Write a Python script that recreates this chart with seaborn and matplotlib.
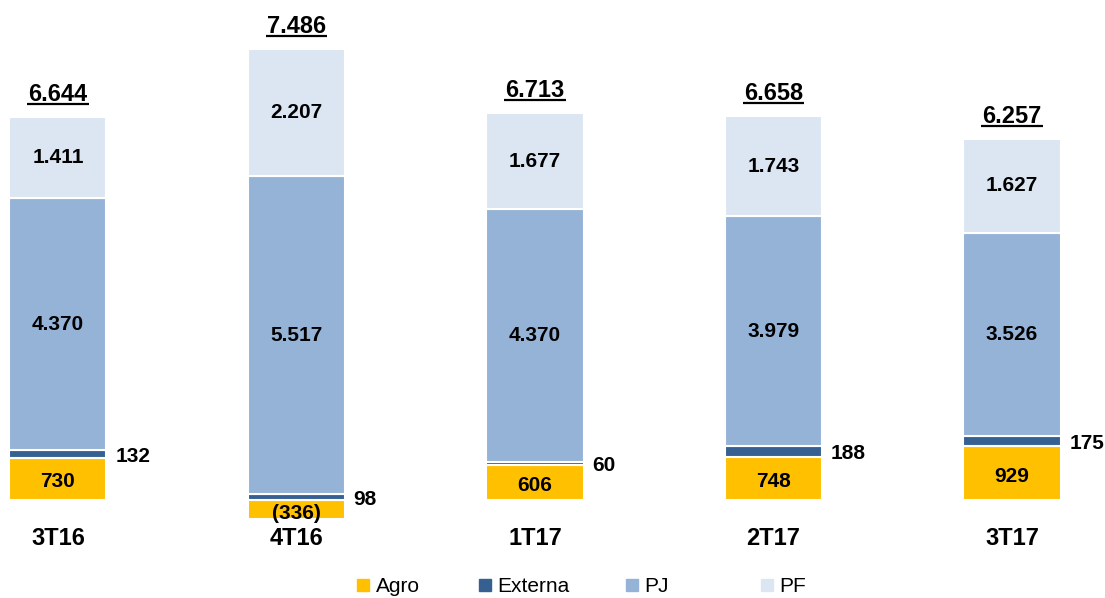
import numpy as np
import matplotlib as mpl
import matplotlib.pyplot as plt
import seaborn as sns
from matplotlib.lines import Line2D

sns.set_theme(style="white")
mpl.rcParams["font.family"] = ["Liberation Sans", "DejaVu Sans"]
mpl.rcParams["text.color"] = "black"

# --------------------------------------------------
# Data
# --------------------------------------------------

quarters = ["3T16", "4T16", "1T17", "2T17", "3T17"]
agro = [730, -336, 606, 748, 929]
externa = [132, 98, 60, 188, 175]
pj = [4370, 5517, 4370, 3979, 3526]
pf = [1411, 2207, 1677, 1743, 1627]
totals = ["6.644", "7.486", "6.713", "6.658", "6.257"]

series_names = ["Agro", "Externa", "PJ", "PF"]

AGRO = "#FFC000"
EXTERNA = "#366092"
PJ = "#95B3D7"
PF = "#DCE6F2"


def fmt(v):
    s = f"{abs(v):,}".replace(",", ".")
    return f"({s})" if v < 0 else s


fig = plt.figure(figsize=(11.05, 5.98), dpi=100)
ax = fig.add_axes([0, 0, 1, 1])

x = np.arange(len(quarters))
width = 0.407

agro_arr = np.array(agro)
ext_arr = np.array(externa)
pj_arr = np.array(pj)
pf_arr = np.array(pf)

# positives stack from zero, negative agro hangs below
base_agro = np.zeros(len(x))
base_ext = np.where(agro_arr > 0, agro_arr, 0)
base_pj = base_ext + ext_arr
base_pf = base_pj + pj_arr
tops = base_pf + pf_arr

bar_kw = dict(width=width, edgecolor="white", linewidth=1.5)
ax.bar(x, agro_arr, bottom=base_agro, color=AGRO, **bar_kw)
ax.bar(x, ext_arr, bottom=base_ext, color=EXTERNA, **bar_kw)
ax.bar(x, pj_arr, bottom=base_pj, color=PJ, **bar_kw)
ax.bar(x, pf_arr, bottom=base_pf, color=PF, **bar_kw)

# Value labels
lab_kw = dict(ha="center", va="center", fontsize=15,
              fontweight="bold", color="black")

for i in range(len(x)):

    ax.text(x[i], agro_arr[i] / 2 - (60 if agro_arr[i] < 0 else 50),
            fmt(agro[i]), **lab_kw)

    ax.text(x[i], base_pj[i] + pj_arr[i] / 2, fmt(pj[i]), **lab_kw)

    ax.text(x[i], base_pf[i] + pf_arr[i] / 2, fmt(pf[i]), **lab_kw)

    ax.text(x[i] + 0.24, base_ext[i] + ext_arr[i] / 2 - 40,
            fmt(externa[i]), ha="left", va="center",
            fontsize=15, fontweight="bold", color="black")

    ax.text(x[i], -670, quarters[i], ha="center", va="center",
            fontsize=17, fontweight="bold", color="black")

# Totals with underline
fig.canvas.draw()
renderer = fig.canvas.get_renderer()

for i in range(len(x)):

    t = ax.text(x[i], tops[i] + 385, totals[i], ha="center",
                va="center", fontsize=17, fontweight="bold",
                color="black")

    bb = t.get_window_extent(renderer=renderer)
    inv = ax.transData.inverted()
    (x0, _), (x1, _) = inv.transform([[bb.x0, 0], [bb.x1, 0]])

    ax.hlines(tops[i] + 225, x0, x1, color="black", linewidth=1.6)

ax.set_xlim(-0.243, 4.39)
ax.set_ylim(-1698, 8666)
ax.axis("off")

# Legend: one entry each, spaced like the original
legend_x = [363, 485, 632, 767]
W, H = 1105, 598

for name, color, px in zip(series_names, [AGRO, EXTERNA, PJ, PF], legend_x):

    h = Line2D([], [], marker="s", linestyle="none", markersize=8.5,
               markerfacecolor=color, markeredgecolor=color)

    leg = fig.legend(
        [h],
        [name],
        loc="center left",
        bbox_to_anchor=((px - 9.4) / W, 1 - 587 / H),
        frameon=False,
        fontsize=15,
        handletextpad=0.15,
        handlelength=0.9,
        borderpad=0,
        borderaxespad=0
    )

    for txt in leg.get_texts():
        txt.set_color("black")

fig.savefig("out.png", dpi=100)
